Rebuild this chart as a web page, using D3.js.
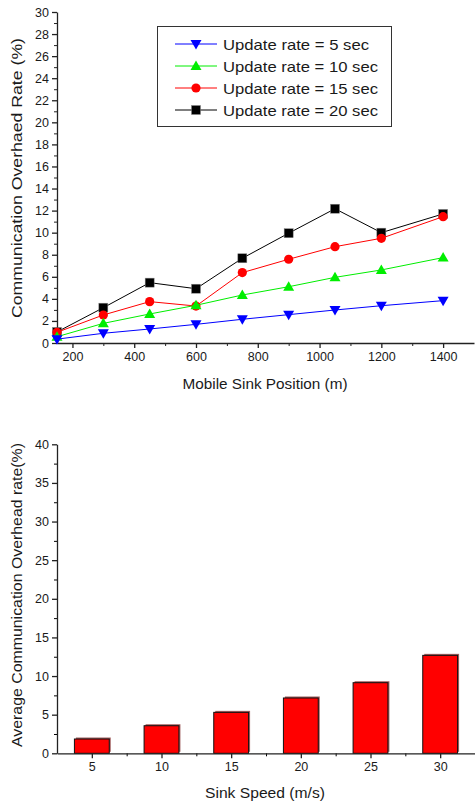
<!DOCTYPE html>
<html>
<head>
<meta charset="utf-8">
<script src="https://cdn.jsdelivr.net/npm/d3@7"></script>
<style>
  html, body { margin: 0; padding: 0; background: #fff; }
  svg { display: block; font-family: Arial, "Liberation Sans", sans-serif; }
</style>
</head>
<body>
<svg id="chart" width="475" height="806"></svg>
<script>
// ---------- Data: top chart ----------
const positions = [150, 300, 450, 600, 750, 900, 1050, 1200, 1400];
const rate5  = [0.35, 0.88, 1.27, 1.69, 2.15, 2.57, 2.99, 3.38, 3.84];
const rate10 = [0.57, 1.78, 2.63, 3.42, 4.35, 5.10, 5.95, 6.62, 7.74];
const rate15 = [0.97, 2.54, 3.75, 3.35, 6.38, 7.59, 8.73, 9.49, 11.45];
const rate20 = [1.00, 3.20, 5.47, 4.92, 7.68, 9.95, 12.17, 10.00, 11.70];
const seriesNames = ["Update rate = 5 sec", "Update rate = 10 sec", "Update rate = 15 sec", "Update rate = 20 sec"];
const topYTicks = [0, 2, 4, 6, 8, 10, 12, 14, 16, 18, 20, 22, 24, 26, 28, 30];
const topXTicks = [200, 400, 600, 800, 1000, 1200, 1400];

// ---------- Data: bottom chart ----------
const speeds = [5, 10, 15, 20, 25, 30];
const overhead = [1.85, 3.57, 5.30, 7.16, 9.14, 12.68];
const botYTicks = [0, 5, 10, 15, 20, 25, 30, 35, 40];

const svg = d3.select("#chart");
const textColor = "#1a1a1a";
const fmt = d3.format("d");

// ================= TOP CHART =================
const topG = svg.append("g");
const x1 = d3.scaleLinear().domain([150, 1500]).range([57, 474]);
const y1 = d3.scaleLinear().domain([0, 30]).range([343, 12]);

// minor ticks
topG.append("g").attr("transform", "translate(57,0)")
  .call(d3.axisLeft(y1).tickValues(d3.range(1, 30, 2)).tickSize(3).tickFormat("").tickSizeOuter(0))
  .call(g => g.select(".domain").remove());
topG.append("g").attr("transform", "translate(0,343)")
  .call(d3.axisBottom(x1).tickValues(d3.range(300, 1500, 200)).tickSize(3).tickFormat("").tickSizeOuter(0))
  .call(g => g.select(".domain").remove());

const yAx1 = topG.append("g").attr("transform", "translate(57,0)")
  .call(d3.axisLeft(y1).tickValues(topYTicks).tickFormat(fmt).tickSize(5).tickSizeOuter(0).tickPadding(3));
const xAx1 = topG.append("g").attr("transform", "translate(0,343)")
  .call(d3.axisBottom(x1).tickValues(topXTicks).tickFormat(fmt).tickSize(5).tickSizeOuter(0).tickPadding(4));
[yAx1, xAx1].forEach(a => {
  a.selectAll("text").attr("font-size", 12.5).attr("fill", textColor).attr("font-family", "Arial, 'Liberation Sans', sans-serif");
  a.selectAll("line, path").attr("stroke", "#222").attr("stroke-width", 1.3);
});
topG.selectAll(".tick line").attr("stroke", "#222");

topG.append("text")
  .attr("x", 265).attr("y", 389).attr("text-anchor", "middle")
  .attr("font-size", 15).attr("fill", textColor)
  .attr("textLength", 165).attr("lengthAdjust", "spacingAndGlyphs")
  .text("Mobile Sink Position (m)");
topG.append("text")
  .attr("transform", "translate(22,178) rotate(-90)")
  .attr("text-anchor", "middle")
  .attr("font-size", 15).attr("fill", textColor)
  .attr("textLength", 280).attr("lengthAdjust", "spacingAndGlyphs")
  .text("Communication Overhaed Rate (%)");

const seriesData = [rate5, rate10, rate15, rate20];
const colors = ["#0000ff", "#00ee00", "#ff0000", "#000000"];
const shapes = ["triDown", "triUp", "circle", "square"];

function drawMarker(g, shape, cx, cy, color) {
  if (shape === "circle") {
    g.append("circle").attr("cx", cx).attr("cy", cy).attr("r", 4.6).attr("fill", color);
  } else if (shape === "square") {
    g.append("rect").attr("x", cx - 4.5).attr("y", cy - 4.5).attr("width", 9).attr("height", 9)
      .attr("fill", color).attr("stroke", "#888").attr("stroke-width", 0.5);
  } else if (shape === "triUp") {
    g.append("path").attr("d", `M${cx},${cy - 5.5}L${cx + 5.5},${cy + 4}L${cx - 5.5},${cy + 4}Z`).attr("fill", color);
  } else {
    g.append("path").attr("d", `M${cx},${cy + 5.5}L${cx + 5.5},${cy - 4}L${cx - 5.5},${cy - 4}Z`).attr("fill", color);
  }
}

const line = d3.line().x((d, i) => x1(positions[i])).y(d => y1(d));
[3, 2, 1, 0].forEach(si => {
  const g = topG.append("g");
  g.append("path").datum(seriesData[si]).attr("d", line)
    .attr("fill", "none").attr("stroke", colors[si]).attr("stroke-width", 1);
  seriesData[si].forEach((v, i) => drawMarker(g, shapes[si], x1(positions[i]), y1(v), colors[si]));
});

// legend
const leg = topG.append("g");
leg.append("rect").attr("x", 157.5).attr("y", 26.5).attr("width", 234).attr("height", 100)
  .attr("fill", "#fff").attr("stroke", "#333").attr("stroke-width", 1);
const legRows = [44, 66, 88, 110];
seriesNames.forEach((name, i) => {
  const ly = legRows[i];
  leg.append("line").attr("x1", 175).attr("x2", 217).attr("y1", ly).attr("y2", ly)
    .attr("stroke", colors[i]).attr("stroke-width", 1);
  drawMarker(leg, shapes[i], 196, ly, colors[i]);
  leg.append("text").attr("x", 223).attr("y", ly + 5.5)
    .attr("font-size", 15).attr("fill", textColor)
    .attr("textLength", i === 0 ? 146 : 155).attr("lengthAdjust", "spacingAndGlyphs")
    .text(name);
});

// ================= BOTTOM CHART =================
const bot = svg.append("g");
const x2 = d3.scaleLinear().domain([2.5, 32.5]).range([57, 475]);
const y2 = d3.scaleLinear().domain([0, 40]).range([753.3, 444.3]);

bot.append("g").attr("transform", "translate(57,0)")
  .call(d3.axisLeft(y2).tickValues(d3.range(2.5, 40, 5)).tickSize(3).tickFormat("").tickSizeOuter(0))
  .call(g => g.select(".domain").remove());
bot.append("g").attr("transform", "translate(0,753.3)")
  .call(d3.axisBottom(x2).tickValues(d3.range(7.5, 32.5, 5)).tickSize(3).tickFormat("").tickSizeOuter(0))
  .call(g => g.select(".domain").remove());

// bars
const barW = x2(2.5) - x2(0);
speeds.forEach((s, i) => {
  const bx = x2(s) - barW / 2;
  const by = y2(overhead[i]);
  const bh = y2(0) - by;
  bot.append("rect").attr("x", bx + 1.5).attr("y", by - 1.5).attr("width", barW).attr("height", bh)
    .attr("fill", "#8b3a3a").attr("opacity", 0.8);
  bot.append("rect").attr("x", bx).attr("y", by).attr("width", barW).attr("height", bh)
    .attr("fill", "#ff0000").attr("stroke", "#111").attr("stroke-width", 1);
});

const yAx2 = bot.append("g").attr("transform", "translate(57,0)")
  .call(d3.axisLeft(y2).tickValues(botYTicks).tickFormat(fmt).tickSize(5).tickSizeOuter(0).tickPadding(3));
const xAx2 = bot.append("g").attr("transform", "translate(0,753.3)")
  .call(d3.axisBottom(x2).tickValues(speeds).tickFormat(fmt).tickSize(5).tickSizeOuter(0).tickPadding(4));
[yAx2, xAx2].forEach(a => {
  a.selectAll("text").attr("font-size", 12.5).attr("fill", textColor).attr("font-family", "Arial, 'Liberation Sans', sans-serif");
  a.selectAll("line, path").attr("stroke", "#222").attr("stroke-width", 1.3);
});

bot.append("text")
  .attr("x", 265).attr("y", 798).attr("text-anchor", "middle")
  .attr("font-size", 15).attr("fill", textColor)
  .attr("textLength", 120).attr("lengthAdjust", "spacingAndGlyphs")
  .text("Sink Speed (m/s)");
bot.append("text")
  .attr("transform", "translate(22,595) rotate(-90)")
  .attr("text-anchor", "middle")
  .attr("font-size", 15).attr("fill", textColor)
  .attr("textLength", 304).attr("lengthAdjust", "spacingAndGlyphs")
  .text("Average Communication Overhead rate(%)");
</script>
</body>
</html>
